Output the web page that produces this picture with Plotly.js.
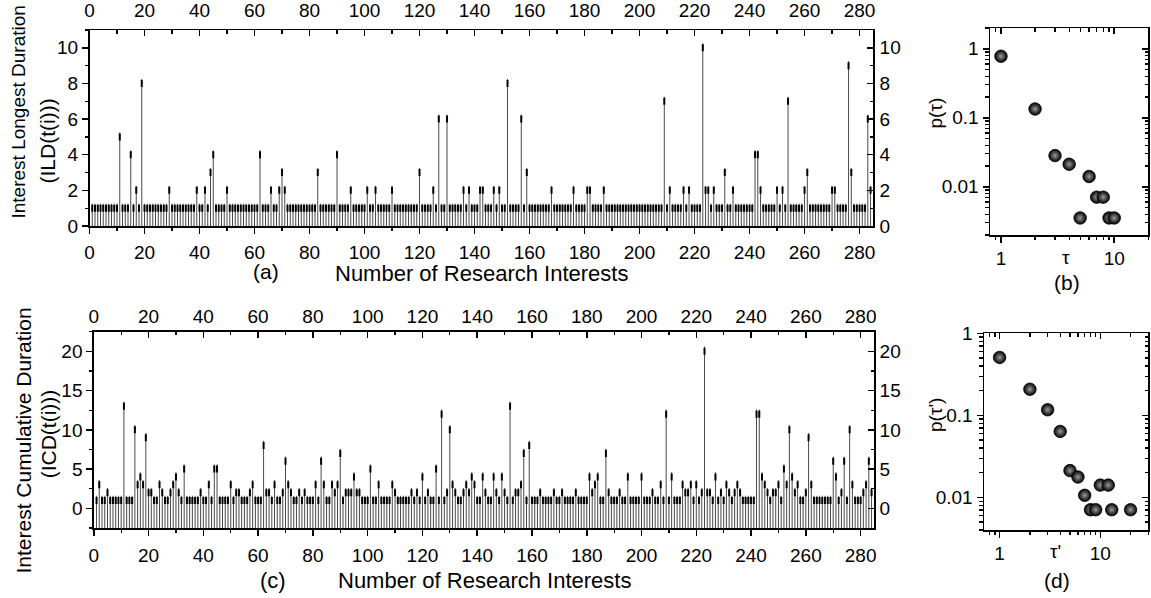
<!DOCTYPE html>
<html><head><meta charset="utf-8">
<script src="https://cdn.plot.ly/plotly-3.0.1.min.js"></script>
<style>html,body{margin:0;padding:0;background:#fff;overflow:hidden}#chart{width:1151px;height:598px}</style>
</head><body><div id="chart"></div>
<script>
// ---------- DATA ----------
// Panel (a): Interest Longest Duration per research interest (index 1..284)
const ILD = [
1,1,1,1,1,1,1,1,1,1,
5,1,1,1,4,1,2,1,8,1,
1,1,1,1,1,1,1,1,2,1,
1,1,1,1,1,1,1,1,2,1,
1,2,1,3,4,1,1,1,1,2,
1,1,1,1,1,1,1,1,1,1,
1,4,1,1,1,2,1,1,2,3,
2,1,1,1,1,1,1,1,1,1,
1,1,3,1,1,1,1,1,1,4,
1,1,1,1,2,1,1,1,1,1,
2,1,1,2,1,1,1,1,1,2,
1,1,1,1,1,1,1,1,1,3,
1,1,1,1,2,1,6,1,1,6,
1,1,1,1,1,2,1,2,1,1,
1,2,2,1,1,1,2,1,2,1,
1,8,1,1,1,1,6,1,3,1,
1,1,1,1,1,1,1,2,1,1,
1,1,1,1,1,2,1,1,1,1,
2,2,1,1,1,1,2,1,1,1,
1,1,1,1,1,1,1,1,1,1,
1,1,1,1,1,1,1,1,7,1,
2,1,1,1,1,2,1,2,1,1,
1,1,10,2,2,1,2,1,1,1,
3,1,1,2,1,1,1,1,1,1,
1,4,4,2,1,1,1,1,1,2,
1,2,1,7,1,1,1,1,1,2,
3,1,1,1,1,1,1,1,1,2,
2,1,1,1,1,9,3,1,1,1,
1,1,6,2];
// Panel (c): Interest Cumulative Duration per research interest (index 1..284)
const ICD = [
1,3,1,1,2,1,1,1,1,1,
13,1,1,1,10,3,4,3,9,2,
2,1,1,3,2,1,1,2,3,4,
2,1,5,1,1,1,1,1,2,1,
1,3,1,5,5,1,1,1,1,3,
1,2,2,1,1,1,2,3,1,1,
1,8,2,2,1,3,1,1,2,6,
3,2,1,1,2,1,2,1,1,1,
3,1,6,3,1,1,3,2,3,7,
1,2,2,2,4,2,2,1,1,1,
5,1,1,3,1,1,1,1,3,2,
1,1,1,1,1,2,1,2,1,4,
1,2,1,1,5,1,12,1,2,10,
3,2,1,1,2,3,2,4,3,1,
1,4,2,1,1,4,2,1,4,2,
1,13,1,2,2,3,7,1,8,1,
1,1,2,1,1,1,1,2,1,1,
2,1,1,1,1,2,1,1,1,1,
4,2,3,4,1,1,7,2,1,1,
1,2,1,1,4,1,1,1,1,4,
1,1,1,2,1,1,3,1,12,1,
4,1,1,1,3,2,2,3,1,3,
1,2,20,2,2,1,4,1,2,1,
3,2,1,2,3,2,1,1,1,1,
1,12,12,4,3,2,1,2,2,3,
1,5,3,10,4,2,3,1,1,2,
9,3,1,1,1,1,1,1,1,6,
4,1,2,6,1,10,3,1,1,1,
2,3,6,2];
// Panel (b): distribution of ILD
const TAU_B = [1,2,3,4,5,6,7,8,9,10];
const P_B = [0.78,0.134,0.0283,0.0212,0.00353,0.0141,0.00707,0.00707,0.00353,0.00353];
// Panel (d): distribution of ICD
const TAU_D = [1,2,3,4,5,6,7,8,9,10,12,13,20];
const P_D = [0.508,0.208,0.117,0.0636,0.0212,0.0177,0.0106,0.00707,0.00707,0.0141,0.0141,0.00707,0.00707];
// tick labels
const LOG_X_TICKS = [1,10];
const LOG_X_TEXT = ['1','10'];
const LOG_Y_TICKS = [0.01,0.1,1];
const LOG_Y_TEXT = ['0.01','0.1','1'];

// ---------- STYLE / LAYOUT ----------
const W = 1151, H = 598;
const fx = p => p / W, fy = p => 1 - p / H;
const FONT = 'Liberation Sans, Arial, Helvetica, sans-serif';
const NARROW = 'Liberation Sans Narrow, Arial Narrow, Liberation Sans, Arial, sans-serif';
const TICKFONT = {family: FONT, size: 19, color: '#000'};
const A_TOP_PAD = 0.25;   // stem overshoot above marker, panel (a)
const C_TOP_PAD = 0.6;    // stem overshoot above marker, panel (c)
const A_YMIN = 0, C_YMIN = -2.5;

const idx = ILD.map((_, i) => i + 1);

function stems(vals, base, pad) {
  const xs = [], ys = [];
  vals.forEach((v, i) => { xs.push(idx[i], idx[i], null); ys.push(base, v + pad, null); });
  return {xs, ys};
}
const sa = stems(ILD, A_YMIN, A_TOP_PAD);
const sc = stems(ICD, C_YMIN, C_TOP_PAD);

const stemLine = {color: '#4a4a4a', width: 1};
const stemMark = {symbol: 'line-ns', size: 5, color: '#000', line: {width: 2, color: '#000'}};
const sphere = {size: 12.5, color: '#000', gradient: {type: 'radial', color: '#9a9a9a'}, line: {width: 0.8, color: '#000'}};

const traces = [
  {type: 'scatter', mode: 'lines', x: sa.xs, y: sa.ys, line: stemLine, xaxis: 'x', yaxis: 'y', hoverinfo: 'skip'},
  {type: 'scatter', mode: 'markers', x: idx, y: ILD, marker: stemMark, xaxis: 'x2', yaxis: 'y2'},
  {type: 'scatter', mode: 'markers', x: TAU_B, y: P_B, marker: sphere, xaxis: 'x3', yaxis: 'y3'},
  {type: 'scatter', mode: 'markers', x: [null], y: [null], xaxis: 'x4', yaxis: 'y4'},
  {type: 'scatter', mode: 'lines', x: sc.xs, y: sc.ys, line: stemLine, xaxis: 'x5', yaxis: 'y5', hoverinfo: 'skip'},
  {type: 'scatter', mode: 'markers', x: idx, y: ICD, marker: stemMark, xaxis: 'x6', yaxis: 'y6'},
  {type: 'scatter', mode: 'markers', x: TAU_D, y: P_D, marker: sphere, xaxis: 'x7', yaxis: 'y7'},
  {type: 'scatter', mode: 'markers', x: [null], y: [null], xaxis: 'x8', yaxis: 'y8'}
];

const base = {
  showgrid: false, zeroline: false, showline: true, linecolor: '#000', linewidth: 1.5,
  ticks: 'outside', ticklen: 6, tickwidth: 1.5, tickcolor: '#000',
  tickfont: TICKFONT, automargin: false, fixedrange: true
};
const minorOut = (o) => Object.assign({ticks: 'outside', ticklen: 3.5, tickwidth: 1.2, tickcolor: '#000', showgrid: false}, o);
const minorIn = (o) => Object.assign({ticks: 'inside', ticklen: 3.5, tickwidth: 1.2, tickcolor: '#000', showgrid: false}, o);

const X_RANGE = [0, 285];
const logXMinorB = [0.9,2,3,4,5,6,7,8,9,20];
const logYMinorB = [0.002,0.003,0.004,0.005,0.006,0.007,0.008,0.009,0.02,0.03,0.04,0.05,0.06,0.07,0.08,0.09,0.2,0.3,0.4,0.5,0.6,0.7,0.8,0.9,2];
const logXMinorD = [0.8,0.9,2,3,4,5,6,7,8,9,20,30];
const logYMinorD = [0.004,0.005,0.006,0.007,0.008,0.009,0.02,0.03,0.04,0.05,0.06,0.07,0.08,0.09,0.2,0.3,0.4,0.5,0.6,0.7,0.8,0.9];

const layout = {
  width: W, height: H, margin: {l: 0, r: 0, t: 0, b: 0, pad: 0},
  paper_bgcolor: '#fff', plot_bgcolor: 'rgba(0,0,0,0)', showlegend: false,
  font: {family: FONT, color: '#000'},
  // (a)
  xaxis: Object.assign({}, base, {domain: [fx(89.5), fx(873.3)], anchor: 'y', range: X_RANGE, tick0: 0, dtick: 20, ticklabelstandoff: 3, minor: minorOut({dtick: 10})}),
  xaxis2: Object.assign({}, base, {overlaying: 'x', side: 'top', anchor: 'y2', range: X_RANGE, tick0: 0, dtick: 20, ticks: 'inside', ticklabelstandoff: 4, minor: minorIn({dtick: 10})}),
  yaxis: Object.assign({}, base, {domain: [fy(226), fy(30)], anchor: 'x', range: [A_YMIN, 11], tick0: 0, dtick: 2, minor: minorOut({dtick: 1})}),
  yaxis2: Object.assign({}, base, {overlaying: 'y', side: 'right', anchor: 'x2', range: [A_YMIN, 11], tick0: 0, dtick: 2, ticks: 'inside', ticklabelstandoff: 1, minor: minorIn({dtick: 1})}),
  // (b)
  xaxis3: Object.assign({}, base, {type: 'log', domain: [fx(990), fx(1148.3)], anchor: 'y3', range: [Math.log10(0.8), Math.log10(20)], tickmode: 'array', tickvals: LOG_X_TICKS, ticktext: LOG_X_TEXT, minor: minorOut({tickmode: 'array', tickvals: logXMinorB})}),
  xaxis4: Object.assign({}, base, {type: 'log', overlaying: 'x3', side: 'top', anchor: 'y4', range: [Math.log10(0.8), Math.log10(20)], tickmode: 'array', tickvals: LOG_X_TICKS, ticks: 'inside', showticklabels: false, minor: minorIn({tickmode: 'array', tickvals: logXMinorB})}),
  yaxis3: Object.assign({}, base, {type: 'log', domain: [fy(235), fy(28)], anchor: 'x3', range: [Math.log10(0.002), Math.log10(2)], tickmode: 'array', tickvals: LOG_Y_TICKS, ticktext: LOG_Y_TEXT, minor: minorOut({tickmode: 'array', tickvals: logYMinorB})}),
  yaxis4: Object.assign({}, base, {type: 'log', overlaying: 'y3', side: 'right', anchor: 'x4', range: [Math.log10(0.002), Math.log10(2)], tickmode: 'array', tickvals: LOG_Y_TICKS, ticks: 'inside', showticklabels: false, minor: minorIn({tickmode: 'array', tickvals: logYMinorB})}),
  // (c)
  xaxis5: Object.assign({}, base, {domain: [fx(93.8), fx(874.3)], anchor: 'y5', range: X_RANGE, tick0: 0, dtick: 20, ticklabelstandoff: 4, minor: minorOut({dtick: 10})}),
  xaxis6: Object.assign({}, base, {overlaying: 'x5', side: 'top', anchor: 'y6', range: X_RANGE, tick0: 0, dtick: 20, ticks: 'inside', ticklabelstandoff: 0, minor: minorIn({dtick: 10})}),
  yaxis5: Object.assign({}, base, {domain: [fy(528), fy(331.7)], anchor: 'x5', range: [C_YMIN, 22.5], tick0: 0, dtick: 5, minor: minorOut({tick0: 0, dtick: 2.5})}),
  yaxis6: Object.assign({}, base, {overlaying: 'y5', side: 'right', anchor: 'x6', range: [C_YMIN, 22.5], tick0: 0, dtick: 5, ticks: 'inside', ticklabelstandoff: 0, minor: minorIn({tick0: 0, dtick: 2.5})}),
  // (d)
  xaxis7: Object.assign({}, base, {type: 'log', domain: [fx(984), fx(1148.3)], anchor: 'y7', range: [Math.log10(0.7), Math.log10(30)], tickmode: 'array', tickvals: LOG_X_TICKS, ticktext: LOG_X_TEXT, minor: minorOut({tickmode: 'array', tickvals: logXMinorD})}),
  xaxis8: Object.assign({}, base, {type: 'log', overlaying: 'x7', side: 'top', anchor: 'y8', range: [Math.log10(0.7), Math.log10(30)], tickmode: 'array', tickvals: LOG_X_TICKS, ticks: 'inside', showticklabels: false, minor: minorIn({tickmode: 'array', tickvals: logXMinorD})}),
  yaxis7: Object.assign({}, base, {type: 'log', domain: [fy(530), fy(333.3)], anchor: 'x7', range: [Math.log10(0.004), 0], tickmode: 'array', tickvals: LOG_Y_TICKS, ticktext: LOG_Y_TEXT, minor: minorOut({tickmode: 'array', tickvals: logYMinorD})}),
  yaxis8: Object.assign({}, base, {type: 'log', overlaying: 'y7', side: 'right', anchor: 'x8', range: [Math.log10(0.004), 0], tickmode: 'array', tickvals: LOG_Y_TICKS, ticks: 'inside', showticklabels: false, minor: minorIn({tickmode: 'array', tickvals: logYMinorD})}),
  annotations: []
};

function ann(text, px, py, size, angle, family) {
  layout.annotations.push({text, x: fx(px), y: fy(py), xref: 'paper', yref: 'paper',
    xanchor: 'center', yanchor: 'middle', showarrow: false, textangle: angle || 0,
    font: {family: family || FONT, size, color: '#000'}});
}
ann('Interest Longest Duration', 18.5, 112, 19, -90, NARROW);
ann('(ILD(t(i)))', 47.5, 141, 21, -90);
ann('(a)', 266, 271, 21);
ann('Number of Research Interests', 481, 274, 22);
ann('Interest Cumulative Duration', 22.5, 441, 21, -90);
ann('(ICD(t(i)))', 48.3, 434, 21, -90);
ann('(c)', 273, 580, 22);
ann('Number of Research Interests', 484, 580, 22);
ann('p(τ)', 935.5, 113, 19, -90);
ann('τ', 1066, 257, 19);
ann('(b)', 1067, 282, 21);
ann("p(τ')", 935, 415, 19, -90);
ann("τ'", 1055, 551, 19);
ann('(d)', 1057, 580, 21);

Plotly.newPlot('chart', traces, layout, {staticPlot: true, displayModeBar: false});
</script></body></html>
